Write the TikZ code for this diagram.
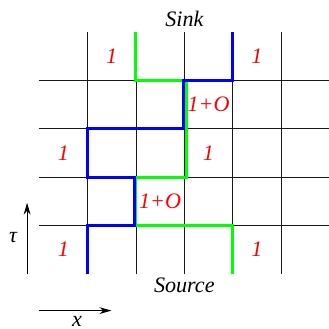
\documentclass[tikz,border=0pt]{standalone}
\usepackage{fontspec}
\setmainfont{Liberation Serif}
\usetikzlibrary{arrows.meta}

\begin{document}
\begin{tikzpicture}[
  every node/.style={font=\fontsize{13}{15}\selectfont\itshape, inner sep=1pt},
  gridline/.style={draw=black!90, line width=0.45pt},
  weight/.style={text=red},
  bluepath/.style={draw=blue, line width=1.8pt},
  greenpath/.style={draw=green, line width=1.8pt},
  axis/.style={-{Stealth[length=7pt, width=4pt]}, line width=0.5pt}
]
\useasboundingbox (-0.81,-1.14) rectangle (5.99,5.66);

% lattice
\foreach \y in {1,...,4}
  \draw[gridline] (0,\y) -- (6,\y);
\foreach \x in {1,...,5}
  \draw[gridline] (\x,0) -- (\x,5);

% the two world lines
\draw[greenpath] (4,0) |- (2,1) |- (3.04,2) -- (3.04,4) -| (2,5);
\draw[bluepath] (1,0) |- (1.97,1) |- (1,2) |- (2.98,3) |- (4,4) -- (4,5);

% weights
\node[weight] (wa) at (1.5,4.5) {1};
\node[weight] (wb) at (4.5,4.5) {1};
\node[weight] (wc) at (3.5,3.5) {1+O};
\node[weight] (wd) at (0.5,2.5) {1};
\node[weight] (we) at (3.5,2.5) {1};
\node[weight] (wf) at (2.5,1.5) {1+O};
\node[weight] (wg) at (0.5,0.5) {1};
\node[weight] (wh) at (4.5,0.5) {1};

% ends
\node[anchor=base] (sink) at (3,5.12) {Sink};
\node[anchor=base] (source) at (3,-0.39) {Source};

% axes
\coordinate (tau0) at (-0.25,0);
\coordinate (tau1) at (-0.25,1.47);
\draw[axis] (tau0) -- (tau1);
\node[anchor=base] (taulabel) at (-0.54,0.64) {τ};
\coordinate (x0) at (0,-0.76);
\coordinate (x1) at (1.49,-0.76);
\draw[axis] (x0) -- (x1);
\node[anchor=base] (xlabel) at (0.78,-1.09) {x};
\end{tikzpicture}
\end{document}
